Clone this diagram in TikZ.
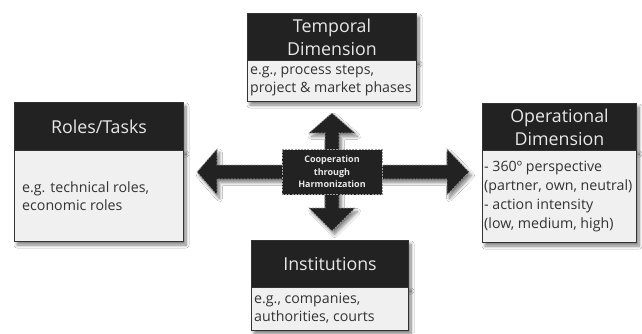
\documentclass[tikz,border=0pt]{standalone}
\usepackage{fontspec}
\setmainfont{Open Sans}
\usetikzlibrary{shadows.blur}
\definecolor{hdrfill}{HTML}{222222}
\definecolor{bodyfill}{HTML}{F0F0F0}
\definecolor{edge}{HTML}{333333}
\definecolor{hdrtext}{HTML}{E8E8E8}
\definecolor{bodytext}{HTML}{333333}
\definecolor{dashc}{HTML}{9A9A9A}
\begin{document}
\begin{tikzpicture}[x=1pt,y=-1pt,
  shad/.style={blur shadow={shadow xshift=2.5pt,shadow yshift=-3.5pt,shadow blur steps=10,shadow opacity=50,shadow blur radius=3pt}},
  hdr/.style={shad,fill=hdrfill,draw=edge,line width=1pt,text=hdrtext,anchor=north west,inner sep=0pt,align=center,
     font=\fontsize{17.8}{23}\selectfont},
  bodybox/.style={shad,fill=bodyfill,draw=edge,line width=1pt,anchor=north west,inner sep=0pt},
  bodytxt/.style={anchor=west,align=left,text=bodytext,inner sep=0pt,font=\fontsize{14.2}{18}\selectfont},
  arrowshape/.style={shad,fill=hdrfill,draw=dashc,dash pattern=on 2pt off 1.2pt,line width=0.7pt},
  centerbox/.style={fill=hdrfill,draw=dashc,dash pattern=on 2pt off 1.2pt,line width=0.7pt,minimum width=100pt,minimum height=45pt,
     text=hdrtext,align=center,inner sep=0pt,font=\fontsize{9}{12.5}\selectfont\bfseries}
]
\useasboundingbox (0,0) rectangle (642,333);
\fill[white] (0,0) rectangle (642,333);

% central four-way arrow
\coordinate (c) at (332,172);
\draw[arrowshape] (197,172) -- (217,149) -- (217,165) -- (325,165) -- (325,133) -- (309,133) -- (332,113)
  -- (355,133) -- (339,133) -- (339,165) -- (447,165) -- (447,149) -- (469,172) -- (447,195) -- (447,179)
  -- (339,179) -- (339,208) -- (355,208) -- (332,231) -- (309,208) -- (325,208) -- (325,179) -- (217,179)
  -- (217,195) -- cycle;
\node[centerbox] (center) at (c) {Cooperation\\through\\Harmonization};

% Temporal box
\node[hdr,minimum width=169pt,minimum height=47pt] (temph) at (247,13) {Temporal\\Dimension};
\node[bodybox,minimum width=169pt,minimum height=41pt] (tempb) at (247,60) {};
\node[bodytxt] (tempt) at (250,81) {e.g., process steps,\\project \& market phases};

% Roles box
\node[hdr,minimum width=169pt,minimum height=48pt] (roleh) at (14,102) {Roles/Tasks};
\node[bodybox,minimum width=169pt,minimum height=91pt] (roleb) at (14,150) {};
\node[bodytxt] (rolet) at (22,196) {e.g. technical roles,\\economic roles};

% Operational box
\node[hdr,minimum width=154pt,minimum height=47pt] (oph) at (482,103) {Operational\\Dimension};
\node[bodybox,minimum width=154pt,minimum height=92pt] (opb) at (482,150) {};
\node[bodytxt,font=\fontsize{14.2}{19}\selectfont] (opt) at (484,196) {- 360º perspective\\(partner, own, neutral)\\- action intensity\\(low, medium, high)};

% Institutions box
\node[hdr,minimum width=157pt,minimum height=47pt] (insth) at (251,240) {Institutions};
\node[bodybox,minimum width=157pt,minimum height=43pt] (instb) at (251,287) {};
\node[bodytxt] (instt) at (254,308.5) {e.g., companies,\\authorities, courts};

\end{tikzpicture}
\end{document}
